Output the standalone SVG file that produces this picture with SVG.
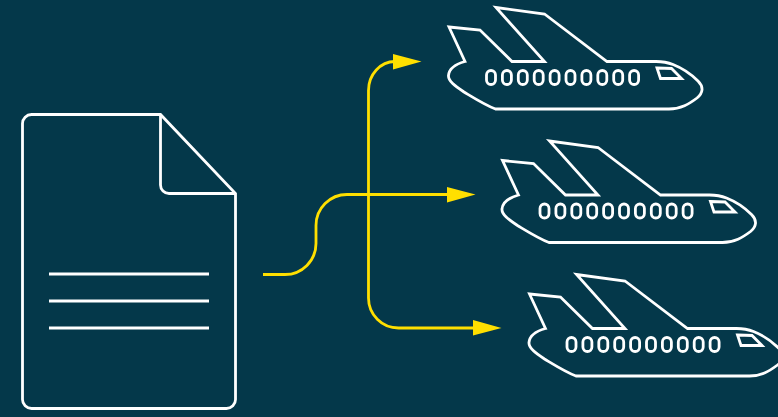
<svg xmlns="http://www.w3.org/2000/svg" xmlns:xlink="http://www.w3.org/1999/xlink" width="778" height="417" viewBox="0 0 778 417">
<style>
.w{fill:none;stroke:#fff;stroke-width:2.8;stroke-linejoin:miter}
.y{fill:none;stroke:#ffdf00;stroke-width:2.8}
.h{fill:#ffdf00}
</style>
<defs>
<g id="plane">
<path class="w" d="M449 27L480 30L512 61.500H544.500L496 7.500L544.500 14L607 61.500H656C664 61.500 668 62.500 673 64.500C682 68 692 75 698 81C704 87 703 93 697 98C689 104 681 109 669 109H495.500C485 105 474 98 464 92C455 86 448 81 448.500 75.500C449 69 456 64 465 61.500Z"/>
<path class="w" d="M657 68L671.500 68.500L681.500 78.500H660.500Z"/>
<g class="w">
<rect x="486.500" y="70.500" width="9" height="14" rx="4.500"/>
<rect x="502.400" y="70.500" width="9" height="14" rx="4.500"/>
<rect x="518.300" y="70.500" width="9" height="14" rx="4.500"/>
<rect x="534.200" y="70.500" width="9" height="14" rx="4.500"/>
<rect x="550.100" y="70.500" width="9" height="14" rx="4.500"/>
<rect x="566" y="70.500" width="9" height="14" rx="4.500"/>
<rect x="581.900" y="70.500" width="9" height="14" rx="4.500"/>
<rect x="597.800" y="70.500" width="9" height="14" rx="4.500"/>
<rect x="613.700" y="70.500" width="9" height="14" rx="4.500"/>
<rect x="629.600" y="70.500" width="9" height="14" rx="4.500"/>
</g>
</g>
</defs>
<rect width="778" height="417" fill="#04384a"/>
<g id="document">
<path class="w" d="M160.500 114.500H31.500A9 9 0 0 0 22.500 123.500V399.500A9 9 0 0 0 31.500 408.500H226.500A9 9 0 0 0 235.500 399.500V193.500Z"/>
<path class="w" d="M160.500 114.500V185A8.500 8.500 0 0 0 169 193.500H235.500"/>
<path class="w" d="M49 274H209M49 301H209M49 328H209"/>
</g>
<g id="connectors">
<path class="y" d="M263 274.500H285A31 31 0 0 0 316 243.500V225.500A31 31 0 0 1 347 194.500H450"/>
<path class="y" d="M395 61.500A26.500 29 0 0 0 368.500 90.500V298A30 30 0 0 0 398.500 328H476"/>
<path class="h" d="M393 54L421.500 61.500L393 69.500Z"/>
<path class="h" d="M447 187L475.500 194.500L447 202.500Z"/>
<path class="h" d="M473 320L501.500 328L473 335.500Z"/>
</g>
<g id="plane-1"><use href="#plane" xlink:href="#plane"/></g>
<g id="plane-2"><use href="#plane" xlink:href="#plane" x="53.500" y="133.500"/></g>
<g id="plane-3"><use href="#plane" xlink:href="#plane" x="80.500" y="267"/></g>
</svg>
